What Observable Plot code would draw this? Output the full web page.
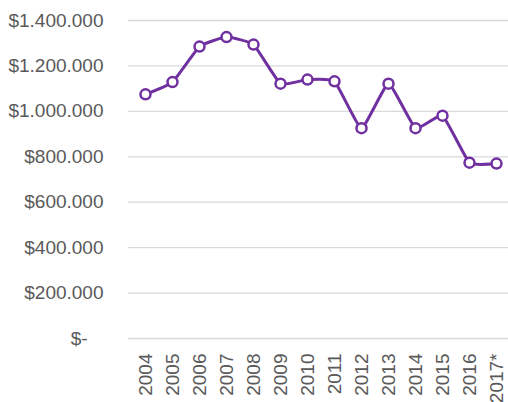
<!DOCTYPE html>
<html>
<head>
<meta charset="utf-8">
<script src="https://cdn.jsdelivr.net/npm/d3@7"></script>
<script src="https://cdn.jsdelivr.net/npm/@observablehq/plot@0.6"></script>
<style>
  html, body { margin: 0; padding: 0; background: #fff; }
</style>
</head>
<body>
<div id="chart"></div>
<script>
const years = ["2004", "2005", "2006", "2007", "2008", "2009", "2010", "2011", "2012", "2013", "2014", "2015", "2016", "2017*"];
const values = [1075000, 1129000, 1285000, 1327000, 1294000, 1122000, 1140000, 1132000, 926000, 1122000, 926000, 981000, 774000, 770000];
const yTicks = [0, 200000, 400000, 600000, 800000, 1000000, 1200000, 1400000];

const data = years.map((y, i) => ({year: y, value: values[i]}));
const fmt = d => d === 0 ? "$-\u00a0\u00a0\u00a0" : "$" + d3.format(",")(d).replace(/,/g, ".");

const chart = Plot.plot({
  width: 508,
  height: 402,
  marginLeft: 128,
  marginRight: 0,
  marginTop: 20,
  marginBottom: 64,
  style: {fontFamily: "'Liberation Sans', Arial, sans-serif", fontSize: "19px", color: "#595959", background: "#fff"},
  x: {type: "point", domain: years, range: [141.7, 498.3], padding: 0},
  y: {domain: [0, 1400000], range: [338, 20]},
  marks: [
    Plot.gridY(yTicks, {stroke: "#d9d9d9", strokeOpacity: 1, strokeWidth: 1.3}),
    Plot.axisY(yTicks, {tickSize: 0, tickPadding: 25, tickFormat: fmt, label: null, fontSize: 19}),
    Plot.axisX({tickSize: 0, tickPadding: 15, tickRotate: -90, label: null, fontSize: 19}),
    Plot.line(data, {x: "year", y: "value", stroke: "#7030A0", strokeWidth: 3, curve: "cardinal", tension: 0.6}),
    Plot.dot(data, {x: "year", y: "value", r: 5, fill: "#fff", stroke: "#7030A0", strokeWidth: 2.5})
  ]
});
document.getElementById("chart").appendChild(chart);
</script>
</body>
</html>
